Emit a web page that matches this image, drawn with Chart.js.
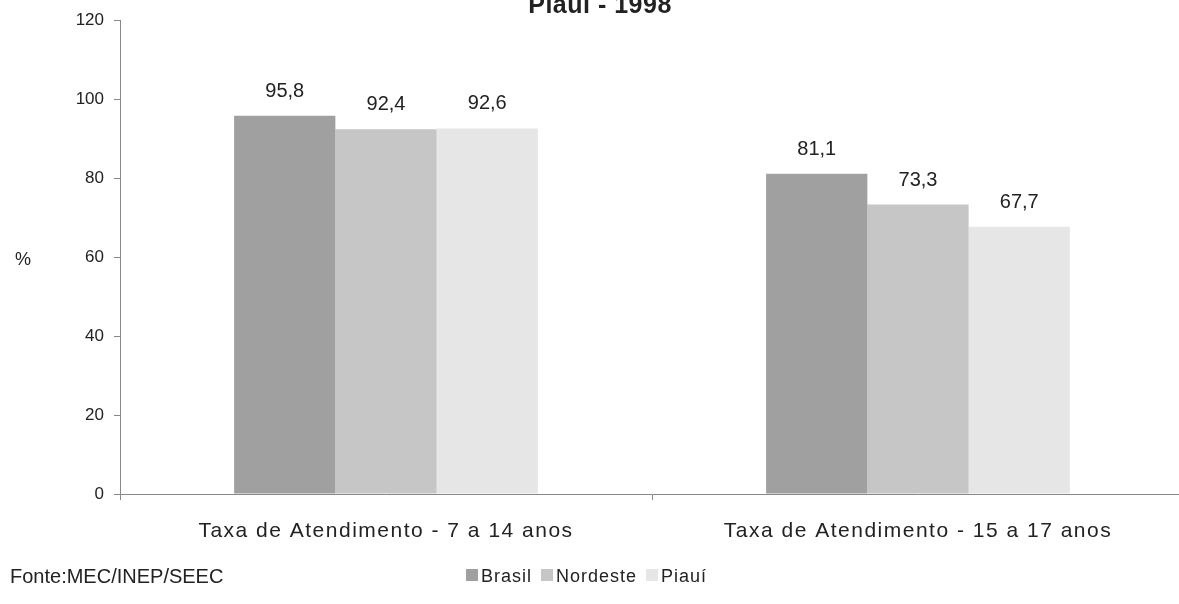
<!DOCTYPE html>
<html>
<head>
<meta charset="utf-8">
<script src="https://cdn.jsdelivr.net/npm/chart.js@4.4.0/dist/chart.umd.min.js"></script>
<style>
  body { margin: 0; background: #fff; overflow: hidden; }
  #wrap { width: 1179px; height: 604px; overflow: hidden; }
</style>
</head>
<body>
<div id="wrap"><canvas id="myChart" width="1184" height="604"></canvas></div>
<script>
  const labels = ["Taxa de Atendimento - 7 a 14 anos", "Taxa de Atendimento - 15 a 17 anos"];
  const brasil = [95.8, 81.1];
  const nordeste = [92.4, 73.3];
  const piaui = [92.6, 67.7];
  const yTicks = [0, 20, 40, 60, 80, 100, 120];

  const FONT = "'Liberation Sans', Arial, sans-serif";

  // valores em cima das barras, com vírgula decimal
  const valueLabels = {
    id: "valueLabels",
    afterDatasetsDraw(chart) {
      const ctx = chart.ctx;
      ctx.save();
      ctx.font = "20px " + FONT;
      ctx.fillStyle = "#222";
      ctx.textAlign = "center";
      ctx.textBaseline = "alphabetic";
      chart.data.datasets.forEach(function (ds, i) {
        chart.getDatasetMeta(i).data.forEach(function (bar, j) {
          ctx.fillText(ds.data[j].toFixed(1).replace(".", ","), bar.x, bar.y - 19);
        });
      });
      ctx.restore();
    },
  };

  // título, "%", fonte e legenda
  const extras = {
    id: "extras",
    afterDraw(chart) {
      const ctx = chart.ctx;
      ctx.save();
      ctx.fillStyle = "#222";
      ctx.textBaseline = "alphabetic";

      ctx.font = "bold 25px " + FONT;
      ctx.letterSpacing = "0.5px";
      ctx.textAlign = "center";
      ctx.fillText("Piauí - 1998", 600, 13);

      ctx.letterSpacing = "0px";
      ctx.font = "18px " + FONT;
      ctx.textBaseline = "middle";
      ctx.fillText("%", 23, 260);

      ctx.textBaseline = "alphabetic";
      ctx.textAlign = "left";
      ctx.font = "20px " + FONT;
      ctx.fillText("Fonte:MEC/INEP/SEEC", 10, 583);

      ctx.font = "18px " + FONT;
      ctx.letterSpacing = "1px";
      let x = 466;
      chart.data.datasets.forEach(function (ds) {
        ctx.fillStyle = ds.backgroundColor;
        ctx.fillRect(x, 569, 12, 12);
        ctx.fillStyle = "#222";
        ctx.fillText(ds.label, x + 15, 582);
        x += 15 + ctx.measureText(ds.label).width + 9;
      });
      ctx.restore();
    },
  };

  const data = {
    labels: labels,
    datasets: [
      { label: "Brasil", data: brasil, backgroundColor: "#a0a0a0" },
      { label: "Nordeste", data: nordeste, backgroundColor: "#c6c6c6" },
      { label: "Piauí", data: piaui, backgroundColor: "#e6e6e6" },
    ],
  };

  const config = {
    type: "bar",
    data: data,
    options: {
      responsive: false,
      animation: false,
      categoryPercentage: 0.571,
      barPercentage: 1,
      layout: { padding: { left: 0, top: 19, right: 0, bottom: 0 } },
      plugins: {
        legend: { display: false },
        title: { display: false },
        tooltip: { enabled: false },
      },
      scales: {
        x: {
          grid: { drawOnChartArea: false, tickLength: 6, color: "#888" },
          border: { color: "#888" },
          ticks: { font: { family: FONT, size: 21 }, color: "#222", padding: 19, maxRotation: 0 },
          afterFit: function (scale) {
            scale.height = 110;
            if (!scale._spaced) {
              const draw = scale.draw;
              scale.draw = function (area) {
                const c = this.ctx;
                c.save();
                c.letterSpacing = "1.5px";
                draw.call(this, area);
                c.restore();
              };
              scale._spaced = true;
            }
          },
        },
        y: {
          min: 0,
          max: 120,
          afterBuildTicks: function (scale) {
            scale.ticks = yTicks.map(function (v) { return { value: v }; });
          },
          grid: { drawOnChartArea: false, tickLength: 6, color: "#888" },
          border: { color: "#888" },
          ticks: { font: { family: FONT, size: 17 }, color: "#222", padding: 10 },
          afterFit: function (scale) {
            scale.width = 120;
          },
        },
      },
    },
    plugins: [valueLabels, extras],
  };

  const myChart = new Chart(document.getElementById("myChart"), config);
</script>
</body>
</html>
